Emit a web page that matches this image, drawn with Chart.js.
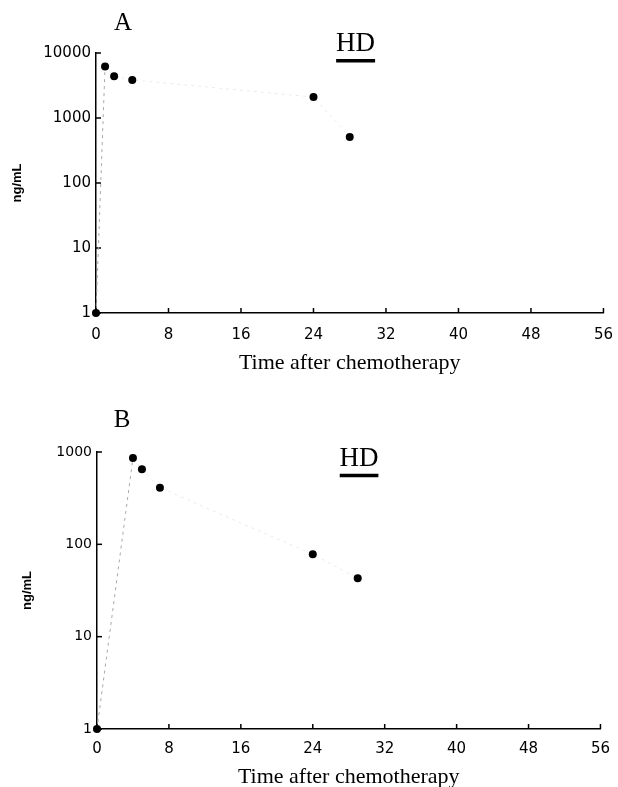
<!DOCTYPE html>
<html><head><meta charset="utf-8">
<script src="https://cdn.jsdelivr.net/npm/chart.js@4.4.1/dist/chart.umd.min.js"></script>
<style>
html,body{margin:0;padding:0;background:#fff;overflow:hidden;width:618px;height:787px;}
#wa{position:absolute;left:0;top:0;width:640px;height:395px;}
#wb{position:absolute;left:0;top:395px;width:640px;height:400px;}
canvas{display:block;}
</style></head><body>
<div id="wa"><canvas id="ca" width="626" height="395"></canvas></div>
<div id="wb"><canvas id="cb" width="621" height="400"></canvas></div>
<script>
// ---- data ----
const timesA = [0, 1, 2, 4, 24, 28];
const concA  = [1, 6200, 4400, 3850, 2100, 510];
const timesB = [0, 4, 5, 7, 24, 29];
const concB  = [1, 860, 650, 410, 78, 43];
const xTicks  = [0, 8, 16, 24, 32, 40, 48, 56];
const yTicksA = [1, 10, 100, 1000, 10000];
const yTicksB = [1, 10, 100, 1000];
const hdA = [26.5, 30.8]; const hdLevelA = 7600;
const hdB = [27.0, 31.3]; const hdLevelB = 555;
const xTitle = 'Time after chemotherapy';
const yTitle = 'ng/mL';

Chart.defaults.color = '#000';
Chart.defaults.font.family = '"DejaVu Sans", sans-serif';

const panelPlugin = {
  id: 'panel',
  beforeDatasetsDraw(chart) {
    const {ctx, chartArea} = chart;
    const x = chart.scales.x, y = chart.scales.y;
    ctx.save();
    ctx.strokeStyle = '#000';
    ctx.lineWidth = 1.5;
    x.ticks.forEach((t, i) => {
      const px = x.getPixelForTick(i);
      ctx.beginPath(); ctx.moveTo(px, chartArea.bottom); ctx.lineTo(px, chartArea.bottom - 5); ctx.stroke();
    });
    y.ticks.forEach((t, i) => {
      const py = y.getPixelForTick(i);
      ctx.beginPath(); ctx.moveTo(chartArea.left, py); ctx.lineTo(chartArea.left + 5, py); ctx.stroke();
    });
    ctx.restore();
  },
  afterDraw(chart) {
    const o = chart.options.plugins.panel;
    const {ctx} = chart;
    const x = chart.scales.x, y = chart.scales.y;
    ctx.save();
    ctx.fillStyle = '#000';
    ctx.textAlign = 'center';
    ctx.textBaseline = 'middle';
    ctx.font = '25px "Liberation Serif", serif';
    ctx.fillText(o.letter, o.lx, o.ly);
    const hx = (x.getPixelForValue(o.hd[0]) + x.getPixelForValue(o.hd[1])) / 2;
    const hy = y.getPixelForValue(o.hdLevel);
    ctx.font = '27px "Liberation Serif", serif';
    ctx.fillText('HD', hx, hy - 17);
    ctx.restore();
  }
};

function makeChart(id, times, conc, yTicks, yMax, hd, hdLevel, p) {
  return new Chart(document.getElementById(id), {
    type: 'scatter',
    data: {
      datasets: [
        {
          data: times.map((t, i) => ({x: t, y: conc[i]})),
          showLine: true,
          borderWidth: 1,
          borderDash: [3, 4],
          borderColor: '#c4c4c4',
          segment: { borderColor: c => c.p0DataIndex === 0 ? '#a8a8a8' : '#ebebeb' },
          pointRadius: 4,
          pointHoverRadius: 4,
          pointBackgroundColor: '#000',
          pointBorderWidth: 0,
          clip: false
        },
        {
          data: hd.map(v => ({x: v, y: hdLevel})),
          showLine: true,
          borderColor: '#000',
          borderWidth: 3.5,
          pointRadius: 0,
          clip: false
        }
      ]
    },
    plugins: [panelPlugin],
    options: {
      responsive: false,
      animation: false,
      devicePixelRatio: 1,
      layout: { padding: p.padding },
      plugins: {
        legend: { display: false },
        tooltip: { enabled: false },
        panel: { letter: p.letter, lx: p.lx, ly: p.ly, hd: hd, hdLevel: hdLevel }
      },
      scales: {
        x: {
          type: 'linear', min: 0, max: 56,
          afterBuildTicks: s => { s.ticks = xTicks.map(v => ({value: v})); },
          afterFit: s => { s.height = p.xh; },
          grid: { drawOnChartArea: false, drawTicks: false },
          border: { color: '#000', width: 1.5 },
          ticks: { padding: p.xpad, font: { size: 15 }, color: '#000', maxRotation: 0, callback: v => String(v) },
          title: { display: true, text: xTitle, font: { family: '"Liberation Serif", serif', size: 22 }, color: '#000', padding: { top: 0, bottom: p.xtpb } }
        },
        y: {
          type: 'logarithmic', min: 1, max: yMax,
          afterBuildTicks: s => { s.ticks = yTicks.map(v => ({value: v})); },
          afterFit: s => { s.width = p.yw; },
          grid: { drawOnChartArea: false, drawTicks: false },
          border: { color: '#000', width: 1.5 },
          ticks: { padding: 5, font: { size: p.yfs }, color: '#000', callback: v => String(v) },
          title: { display: true, text: yTitle, font: { family: '"Liberation Sans", sans-serif', size: 13, weight: 'bold' }, color: '#000', padding: { top: p.ytp, bottom: 0 } }
        }
      }
    }
  });
}

makeChart('ca', timesA, concA, yTicksA, 10000, hdA, hdLevelA, {
  padding: { top: 53, right: 15, left: 0, bottom: 12 },
  xh: 70, yw: 96, xpad: 13, xtpb: 7, ytp: 10, yfs: 15,
  letter: 'A', lx: 123, ly: 23
});
makeChart('cb', timesB, concB, yTicksB, 1000, hdB, hdLevelB, {
  padding: { top: 57, right: 18, left: 0, bottom: 4 },
  xh: 62, yw: 97, xpad: 11, xtpb: 1, ytp: 20, yfs: 14,
  letter: 'B', lx: 122, ly: 25
});
</script>
</body></html>
